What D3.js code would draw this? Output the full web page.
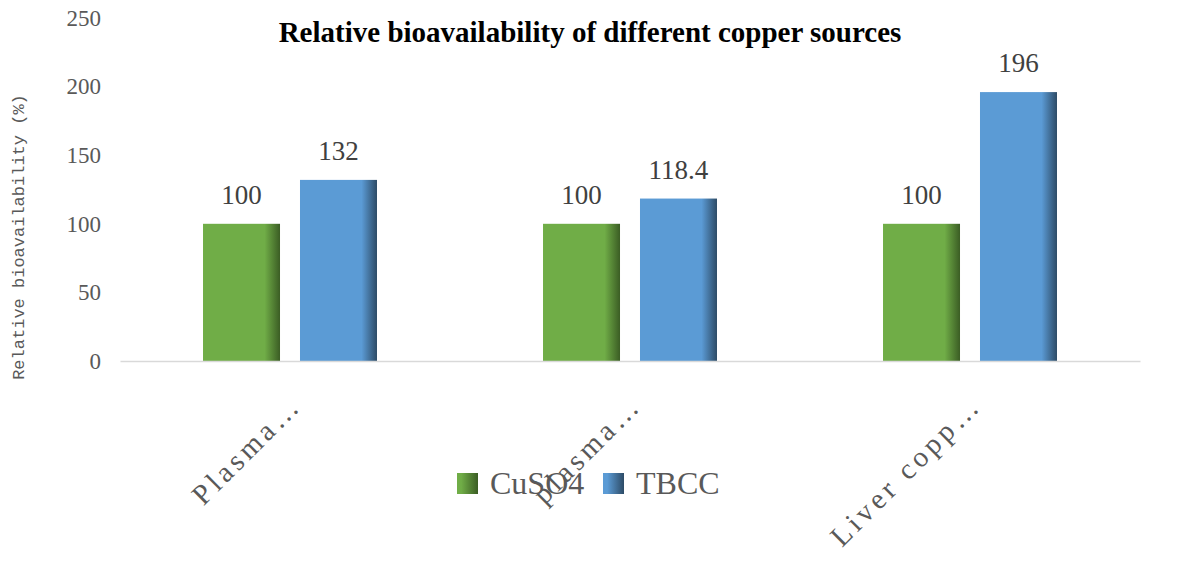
<!DOCTYPE html>
<html>
<head>
<meta charset="utf-8">
<script src="https://cdn.jsdelivr.net/npm/d3@7"></script>
<style>
  body { margin: 0; background: #fff; }
  svg { display: block; }
</style>
</head>
<body>
<div id="chart"></div>
<script>
const categories = ["Plasma\u2026", "plasma\u2026", "Liver copp\u2026"];
const seriesNames = ["CuSO4", "TBCC"];
const cuso4Values = [100, 100, 100];
const tbccValues = [132, 118.4, 196];
const yTicks = [0, 50, 100, 150, 200, 250];

const width = 1181, height = 565;
const margin = { left: 120, right: 41, top: 18, bottom: 204 };
const serif = "'Liberation Serif', 'Times New Roman', serif";
const mono = "'Liberation Mono', 'DejaVu Sans Mono', monospace";

const svg = d3.select("#chart").append("svg")
  .attr("width", width)
  .attr("height", height);

// gradients: flat colour with a darker right edge (bars), softer ramp for legend keys
const defs = svg.append("defs");
const gradColours = {
  CuSO4: { base: "#70ad47", dark: "#3b5d24" },
  TBCC: { base: "#5b9bd5", dark: "#2d4b66" }
};
for (const name of seriesNames) {
  const g = defs.append("linearGradient")
    .attr("id", "grad-" + name)
    .attr("x1", "0").attr("x2", "1").attr("y1", "0").attr("y2", "0");
  g.append("stop").attr("offset", "0").attr("stop-color", gradColours[name].base);
  g.append("stop").attr("offset", "0.8").attr("stop-color", gradColours[name].base);
  g.append("stop").attr("offset", "1").attr("stop-color", gradColours[name].dark);

  const k = defs.append("linearGradient")
    .attr("id", "key-" + name)
    .attr("x1", "0").attr("x2", "1").attr("y1", "0").attr("y2", "0");
  k.append("stop").attr("offset", "0.2").attr("stop-color", gradColours[name].base);
  k.append("stop").attr("offset", "1").attr("stop-color", gradColours[name].dark);
}

const x0 = d3.scaleBand()
  .domain(categories)
  .range([margin.left, width - margin.right])
  .paddingInner(0)
  .paddingOuter(0);

const x1 = d3.scaleBand()
  .domain(seriesNames)
  .range([0, x0.bandwidth()])
  .paddingInner(0.206)
  .paddingOuter(0.856);

const y = d3.scaleLinear()
  .domain([0, 250])
  .range([height - margin.bottom, margin.top]);

// title
svg.append("text")
  .attr("x", 590)
  .attr("y", 42)
  .attr("text-anchor", "middle")
  .style("font-family", serif)
  .style("font-weight", "bold")
  .style("font-size", "29px")
  .attr("fill", "#000")
  .text("Relative bioavailability of different copper sources");

// y axis
const yAxis = svg.append("g")
  .attr("transform", "translate(" + margin.left + ",0)")
  .call(d3.axisLeft(y).tickValues(yTicks).tickSize(0).tickPadding(19));
yAxis.select(".domain").remove();
yAxis.selectAll("text")
  .style("font-family", serif)
  .style("font-size", "23px")
  .attr("fill", "#595959");

svg.append("text")
  .attr("transform", "translate(24," + 237 + ") rotate(-90)")
  .attr("text-anchor", "middle")
  .style("font-family", mono)
  .style("font-size", "17px")
  .attr("fill", "#595959")
  .text("Relative bioavailability (%)");

// legend
const legend = svg.append("g");
const legendItems = [
  { name: "CuSO4", x: 457 },
  { name: "TBCC", x: 603 }
];
for (const item of legendItems) {
  legend.append("rect")
    .attr("x", item.x)
    .attr("y", 473)
    .attr("width", 21)
    .attr("height", 21)
    .attr("fill", "url(#key-" + item.name + ")");
  legend.append("text")
    .attr("x", item.x + 33)
    .attr("y", 494)
    .style("font-family", serif)
    .style("font-size", "32px")
    .attr("fill", "#595959")
    .text(item.name);
}

// bars
const rows = categories.map((c, i) => ({
  category: c,
  values: [
    { name: "CuSO4", value: cuso4Values[i] },
    { name: "TBCC", value: tbccValues[i] }
  ]
}));

const groups = svg.append("g").selectAll("g")
  .data(rows)
  .enter()
  .append("g")
  .attr("transform", (d) => "translate(" + x0(d.category) + ",0)");

groups.selectAll("rect")
  .data((d) => d.values)
  .enter()
  .append("rect")
  .attr("x", (d) => x1(d.name))
  .attr("y", (d) => y(d.value))
  .attr("width", x1.bandwidth())
  .attr("height", (d) => y(0) - y(d.value))
  .attr("fill", (d) => "url(#grad-" + d.name + ")");

groups.selectAll("text")
  .data((d) => d.values)
  .enter()
  .append("text")
  .attr("x", (d) => x1(d.name) + x1.bandwidth() / 2)
  .attr("y", (d) => y(d.value) - 20)
  .attr("text-anchor", "middle")
  .style("font-family", serif)
  .style("font-size", "27px")
  .attr("fill", "#404040")
  .text((d) => d.value);

// x axis baseline and labels
const xAxis = svg.append("g")
  .attr("transform", "translate(0," + y(0) + ")")
  .call(d3.axisBottom(x0).tickSize(0).tickPadding(0));
xAxis.select(".domain")
  .attr("stroke", "#d9d9d9")
  .attr("stroke-width", 1.5);
xAxis.selectAll("text")
  .attr("transform", "translate(13,46) rotate(-45)")
  .attr("y", 0)
  .attr("dy", 0)
  .attr("text-anchor", "end")
  .style("font-family", serif)
  .style("font-size", "29px")
  .style("letter-spacing", "4px")
  .attr("fill", "#595959");
</script>
</body>
</html>
